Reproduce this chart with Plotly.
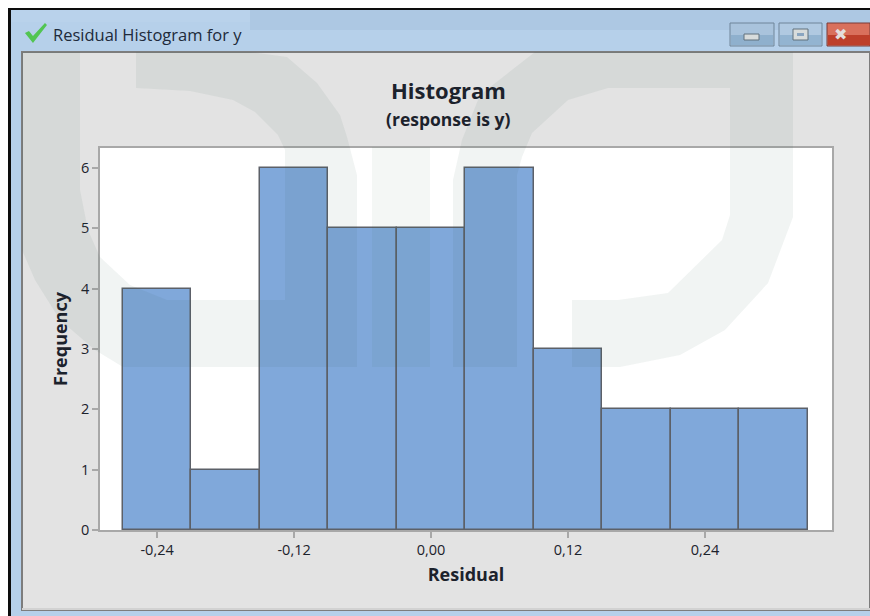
import plotly.graph_objects as go

bin_centers = [-0.24, -0.18, -0.12, -0.06, 0.0, 0.06, 0.12, 0.18, 0.24, 0.30]
frequency = [4, 1, 6, 5, 5, 6, 3, 2, 2, 2]
bin_width = [0.06] * 10
x_ticks = [-0.24, -0.12, 0.0, 0.12, 0.24]
x_tick_labels = ["-0,24", "-0,12", "0,00", "0,12", "0,24"]
y_ticks = [0, 1, 2, 3, 4, 5, 6]

W, H = 870, 616
FONT = "Open Sans"
TXT = "#1c222c"


def px_rect(x0, y0, x1, y1, fill, line=None, lw=0, layer="below", opacity=1):
    return dict(type="rect", xref="paper", yref="paper", layer=layer, opacity=opacity,
                x0=x0 / W, x1=x1 / W, y0=1 - y1 / H, y1=1 - y0 / H,
                fillcolor=fill, line=dict(color=line or fill, width=lw))


def px_path(points, fill, layer="above", opacity=0.065):
    d = ""
    for i, (x, y) in enumerate(points):
        d += ("M" if i == 0 else "L") + f"{x / W:.4f},{1 - y / H:.4f} "
    return dict(type="path", xref="paper", yref="paper", layer=layer, opacity=opacity,
                path=d + "Z", fillcolor=fill, line=dict(width=0))


WM = "#2b5d44"
shapes = [
    px_rect(0, 0, 870, 616, "#ffffff"),
    px_rect(8, 8, 870, 616, "#0d0d0d"),
    px_rect(11, 10, 870, 616, "#b6d0ea"),
    px_rect(250, 10, 870, 30, "#adc8e3"),
    px_rect(11, 10, 250, 22, "#b9d2eb"),
    px_rect(22, 52, 870, 610, "#e3e3e3", line="#7d7d7d", lw=2),
    px_rect(22, 608, 870, 610, "#d2d2d2"),
    px_rect(99, 147, 832, 530, "#ffffff"),
    # window buttons
    px_rect(730, 23, 774, 46, "#a9c3dc", line="#6f8599", lw=1, layer="above"),
    px_rect(731, 35, 773, 45, "#8fb0cd", layer="above"),
    px_rect(779, 23, 822, 46, "#b0c9e1", line="#6f8599", lw=1, layer="above"),
    px_rect(780, 35, 821, 45, "#93b4d1", layer="above"),
    px_rect(827, 23, 870, 46, "#d9705c", line="#7a3a36", lw=1, layer="above"),
    px_rect(828, 35, 870, 45, "#bd3f2a", layer="above"),
    px_rect(744, 34, 759, 40, "#d8dcdc", line="#60707c", lw=1, layer="above"),
    px_rect(793, 29, 808, 40, "#d8dcdc", line="#60707c", lw=1, layer="above"),
    px_rect(797, 33, 804, 36, "#8aa5c0", layer="above"),
    # title-bar check mark
    px_path([(25, 33), (29, 31), (33, 36), (45, 23), (47, 25), (33, 43)], "#52c552", opacity=1),
    # watermark
    px_path([(22, 52), (80, 52), (80, 190), (88, 230), (100, 257), (130, 285), (167, 300), (285, 300),
             (285, 150), (278, 135), (255, 112), (233, 100), (190, 91), (136, 88), (136, 52), (250, 52),
             (287, 57), (317, 83), (340, 115), (347, 137), (357, 175), (357, 367), (123, 367),
             (95, 350), (60, 320), (35, 280), (22, 250)], WM),
    px_path([(372, 147), (430, 147), (430, 367), (372, 367)], WM, opacity=0.05),
    px_path([(535, 52), (793, 52), (793, 217), (768, 283), (725, 330), (680, 355), (620, 367), (572, 367),
             (572, 300), (618, 300), (668, 293), (722, 240), (730, 215), (730, 88), (608, 88), (568, 100),
             (532, 133), (522, 157), (517, 175), (517, 367), (453, 367), (453, 180), (462, 140), (480, 95)], WM),
]

fig = go.Figure(go.Bar(
    x=bin_centers, y=frequency, width=bin_width,
    marker=dict(color="#80a8da", line=dict(color="#5c6068", width=1.5)),
))

annotations = [
    dict(text="<b>Histogram</b>", xref="paper", yref="paper", x=448 / W, y=1 - 90 / H,
         yanchor="middle", showarrow=False, font=dict(family=FONT, size=22, color=TXT)),
    dict(text="<b>(response is y)</b>", xref="paper", yref="paper", x=448 / W, y=1 - 119 / H,
         yanchor="middle", showarrow=False, font=dict(family=FONT, size=17.5, color=TXT)),
    dict(text="Residual Histogram for y", xref="paper", yref="paper", x=51 / W, y=1 - 35 / H,
         xanchor="left", yanchor="middle", showarrow=False, font=dict(family=FONT, size=16.5, color="#202a3a")),
    dict(text="✖", xref="paper", yref="paper", x=849 / W, y=1 - 34 / H,
         yanchor="middle", showarrow=False, font=dict(family="DejaVu Sans", size=16, color="#e4dedc")),
]

fig.update_layout(
    width=W, height=H, autosize=False,
    margin=dict(l=0, r=0, t=0, b=0, pad=0, autoexpand=False),
    paper_bgcolor="#e3e3e3", plot_bgcolor="#ffffff",
    showlegend=False, bargap=0,
    font=dict(family=FONT, color=TXT),
    shapes=shapes, annotations=annotations,
    xaxis=dict(
        domain=[100 / W, 832 / W], range=[-0.2900, 0.3512], automargin=False,
        tickmode="array", tickvals=x_ticks, ticktext=x_tick_labels,
        ticks="outside", ticklen=6, tickwidth=1.5, tickcolor="#a8a8a8",
        showgrid=False, zeroline=False, showline=True, linecolor="#a8a8a8", linewidth=1.5, mirror=True,
        tickfont=dict(family=FONT, size=14.5, color=TXT),
        title=dict(text="<b>Residual</b>", font=dict(family=FONT, size=18, color=TXT), standoff=10),
    ),
    yaxis=dict(
        domain=[1 - 530 / H, 1 - 148 / H], range=[0, 6.33], automargin=False,
        tickmode="array", tickvals=y_ticks,
        ticks="outside", ticklen=6, tickwidth=1.5, tickcolor="#a8a8a8",
        showgrid=False, zeroline=False, showline=True, linecolor="#a8a8a8", linewidth=1.5, mirror=True,
        tickfont=dict(family=FONT, size=14.5, color=TXT),
        title=dict(text="<b>Frequency</b>", font=dict(family=FONT, size=18, color=TXT), standoff=9),
    ),
)

fig.write_html("out.html", config=dict(displayModeBar=False),
               post_script="document.body.style.margin='0';")
